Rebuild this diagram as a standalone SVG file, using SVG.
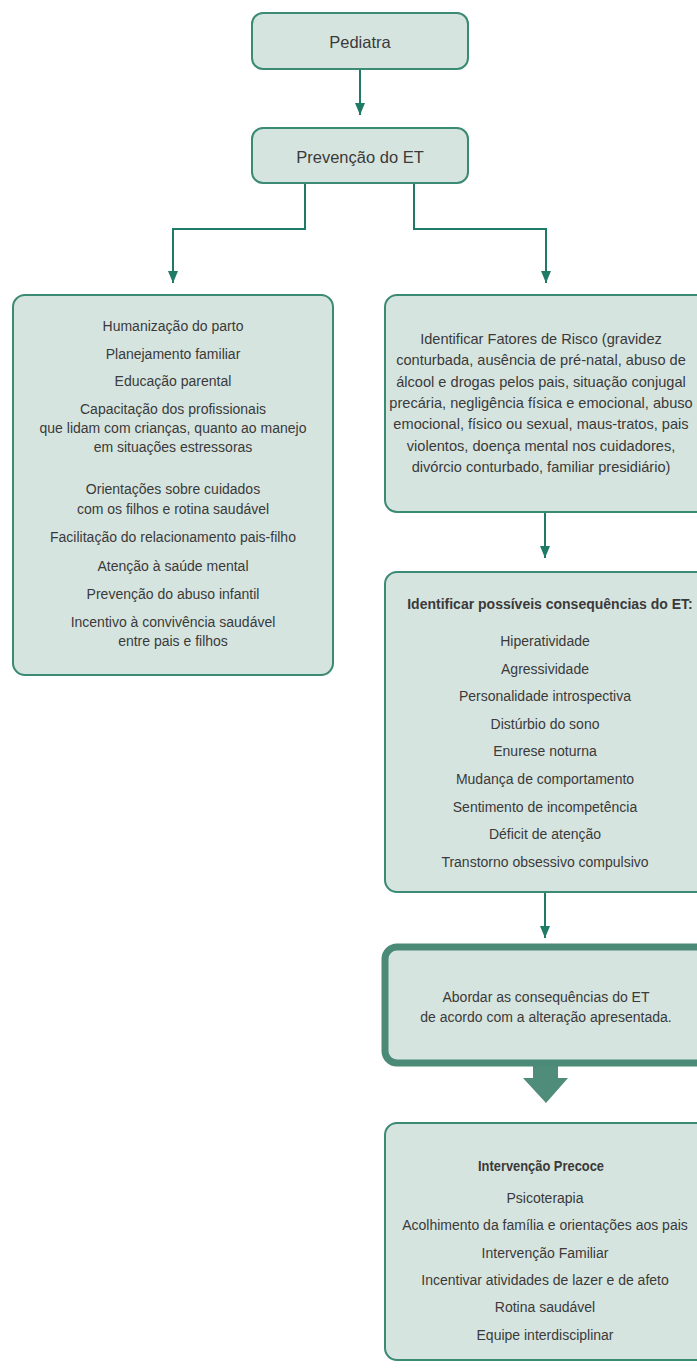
<svg xmlns="http://www.w3.org/2000/svg" width="697" height="1369" viewBox="0 0 697 1369">
<style>
.box{fill:#d6e4df;stroke:#3a8a74;stroke-width:2}
.thick{fill:#d6e4df;stroke:#4b8a77;stroke-width:7}
.t{font-family:"Liberation Sans",Arial,sans-serif;font-size:14px;fill:#3a3a3a;text-anchor:middle}
.t15{font-size:14.6px}
.h{font-size:16.5px}
.b{font-weight:bold}
.con{fill:none;stroke:#1f7a66;stroke-width:2}
</style>
<defs>
<marker id="ah" viewBox="0 0 12 10" refX="12" refY="5" markerWidth="12" markerHeight="10" markerUnits="userSpaceOnUse" orient="auto">
<path d="M0,0 L12,5 L0,10 z" fill="#1f7a66"/>
</marker>
</defs>
<rect width="697" height="1369" fill="#ffffff"/>

<g id="connectors">
<path class="con" d="M360,69 V115" marker-end="url(#ah)"/>
<path class="con" d="M305,183 V229 H173 V283" marker-end="url(#ah)"/>
<path class="con" d="M414,183 V229 H546 V283" marker-end="url(#ah)"/>
<path class="con" d="M545,512 V558" marker-end="url(#ah)"/>
<path class="con" d="M545,892 V938" marker-end="url(#ah)"/>
<path d="M533,1066 H558 V1078 H568 L546,1103 L523,1078 H533 Z" fill="#4f8c7a"/>
</g>

<g id="pediatra">
<rect class="box" x="252" y="13" width="216" height="56" rx="11"/>
<text class="t h" x="360" y="48">Pediatra</text>
</g>

<g id="prevencao">
<rect class="box" x="252" y="128" width="216" height="55" rx="11"/>
<text class="t h" x="360" y="163">Prevenção do ET</text>
</g>

<g id="left">
<rect class="box" x="13" y="295" width="320" height="380" rx="12"/>
<text class="t" x="173" y="331">Humanização do parto</text>
<text class="t" x="173" y="359">Planejamento familiar</text>
<text class="t" x="173" y="386">Educação parental</text>
<text class="t" x="173" y="414">Capacitação dos profissionais</text>
<text class="t" x="173" y="433">que lidam com crianças, quanto ao manejo</text>
<text class="t" x="173" y="452">em situações estressoras</text>
<text class="t" x="173" y="494">Orientações sobre cuidados</text>
<text class="t" x="173" y="514">com os filhos e rotina saudável</text>
<text class="t" x="173" y="542">Facilitação do relacionamento pais-filho</text>
<text class="t" x="173" y="571">Atenção à saúde mental</text>
<text class="t" x="173" y="599">Prevenção do abuso infantil</text>
<text class="t" x="173" y="627">Incentivo à convivência saudável</text>
<text class="t" x="173" y="646">entre pais e filhos</text>
</g>

<g id="risco">
<rect class="box" x="385" y="295" width="340" height="217" rx="12"/>
<text class="t t15" x="541" y="344">Identificar Fatores de Risco (gravidez</text>
<text class="t t15" x="541" y="365">conturbada, ausência de pré-natal, abuso de</text>
<text class="t t15" x="541" y="387">álcool e drogas pelos pais, situação conjugal</text>
<text class="t t15" x="541" y="408">precária, negligência física e emocional, abuso</text>
<text class="t t15" x="541" y="429">emocional, físico ou sexual, maus-tratos, pais</text>
<text class="t t15" x="541" y="451">violentos, doença mental nos cuidadores,</text>
<text class="t t15" x="541" y="472">divórcio conturbado, familiar presidiário)</text>
</g>

<g id="consequencias">
<rect class="box" x="385" y="572" width="340" height="320" rx="12"/>
<text class="t b" x="550" y="609">Identificar possíveis consequências do ET:</text>
<text class="t" x="545" y="646">Hiperatividade</text>
<text class="t" x="545" y="674">Agressividade</text>
<text class="t" x="545" y="701">Personalidade introspectiva</text>
<text class="t" x="545" y="729">Distúrbio do sono</text>
<text class="t" x="545" y="756">Enurese noturna</text>
<text class="t" x="545" y="784">Mudança de comportamento</text>
<text class="t" x="545" y="812">Sentimento de incompetência</text>
<text class="t" x="545" y="839">Déficit de atenção</text>
<text class="t" x="545" y="867">Transtorno obsessivo compulsivo</text>
</g>

<g id="abordar">
<rect class="thick" x="385" y="947" width="340" height="116" rx="12"/>
<text class="t" x="546" y="1002">Abordar as consequências do ET</text>
<text class="t" x="546" y="1022">de acordo com a alteração apresentada.</text>
</g>

<g id="intervencao">
<rect class="box" x="385" y="1123" width="340" height="237" rx="12"/>
<text class="t b" x="541" y="1171" style="font-size:14.5px" textLength="126" lengthAdjust="spacingAndGlyphs">Intervenção Precoce</text>
<text class="t" x="545" y="1203">Psicoterapia</text>
<text class="t" x="545" y="1230">Acolhimento da família e orientações aos pais</text>
<text class="t" x="545" y="1258">Intervenção Familiar</text>
<text class="t" x="545" y="1285">Incentivar atividades de lazer e de afeto</text>
<text class="t" x="545" y="1312">Rotina saudável</text>
<text class="t" x="545" y="1340">Equipe interdisciplinar</text>
</g>
</svg>
